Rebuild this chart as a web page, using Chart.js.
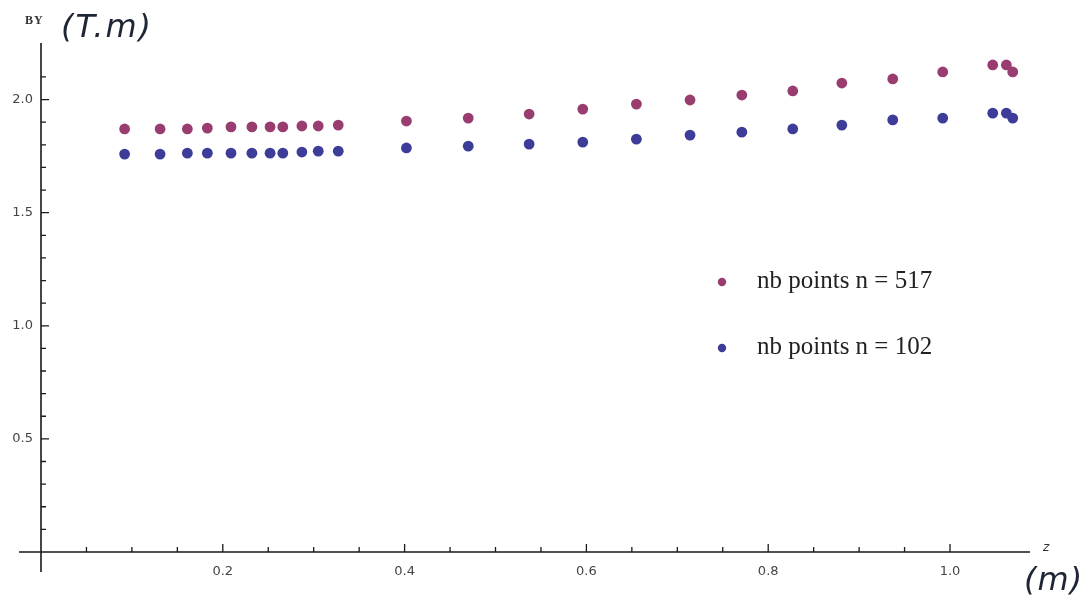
<!DOCTYPE html>
<html>
<head>
<meta charset="utf-8">
<script src="https://cdn.jsdelivr.net/npm/chart.js@4.4.1/dist/chart.umd.min.js"></script>
<style>
  html, body { margin: 0; padding: 0; background: #ffffff; }
  #wrap { width: 1090px; height: 602px; }
</style>
</head>
<body>
<div id="wrap"><canvas id="c" width="1090" height="602"></canvas></div>
<script>
// ---- data ----
const zPositions = [0.092, 0.131, 0.161, 0.183, 0.209, 0.232, 0.252, 0.266, 0.287, 0.305, 0.327,
                    0.402, 0.470, 0.537, 0.596, 0.655, 0.714, 0.771, 0.827, 0.881, 0.937, 0.992,
                    1.047, 1.062, 1.069];
const by517 = [1.870, 1.870, 1.870, 1.874, 1.879, 1.879, 1.879, 1.879, 1.883, 1.883, 1.887,
               1.905, 1.918, 1.936, 1.958, 1.980, 1.998, 2.020, 2.038, 2.073, 2.091, 2.122,
               2.153, 2.153, 2.122];
const by102 = [1.759, 1.759, 1.763, 1.763, 1.763, 1.763, 1.763, 1.763, 1.768, 1.772, 1.772,
               1.786, 1.794, 1.803, 1.812, 1.825, 1.843, 1.856, 1.870, 1.887, 1.910, 1.918,
               1.940, 1.940, 1.918];
const seriesLabels = ['nb points n = 517', 'nb points n = 102'];
const xMajorTicks = [0.2, 0.4, 0.6, 0.8, 1.0];
const yMajorTicks = [0.5, 1.0, 1.5, 2.0];
const yAxisLabelSmall = 'BY';
const yAxisUnit = '(T.m)';
const xAxisLabelSmall = 'z';
const xAxisUnit = '(m)';

const RED = '#993d71';
const BLUE = '#3d3d99';

function toPoints(xs, ys) { return xs.map((x, i) => ({ x: x, y: ys[i] })); }
function isMajor(v, list) { return list.some(m => Math.abs(m - v) < 1e-6); }

const axesPlugin = {
  id: 'mathAxes',
  beforeDatasetsDraw(chart) {
    const ctx = chart.ctx;
    const xs = chart.scales.x, ys = chart.scales.y;
    const x0 = xs.getPixelForValue(0), y0 = ys.getPixelForValue(0);
    const xEnd = xs.getPixelForValue(xs.max), yTop = ys.getPixelForValue(ys.max);
    ctx.save();
    ctx.strokeStyle = '#1a1a1a';
    ctx.lineWidth = 1.6;
    ctx.beginPath();
    ctx.moveTo(x0 - 22, y0); ctx.lineTo(xEnd, y0);
    ctx.moveTo(x0, yTop); ctx.lineTo(x0, y0 + 20);
    ctx.stroke();
    ctx.lineWidth = 1.3;
    ctx.beginPath();
    xs.ticks.forEach(t => {
      if (t.value <= 1e-6 || t.value > xs.max - 0.02) return;
      const px = xs.getPixelForValue(t.value);
      const len = isMajor(t.value, xMajorTicks) ? 8 : 5;
      ctx.moveTo(px, y0); ctx.lineTo(px, y0 - len);
    });
    ys.ticks.forEach(t => {
      if (t.value <= 1e-6 || t.value > ys.max - 0.02) return;
      const py = ys.getPixelForValue(t.value);
      const len = isMajor(t.value, yMajorTicks) ? 8 : 5;
      ctx.moveTo(x0, py); ctx.lineTo(x0 + len, py);
    });
    ctx.stroke();
    ctx.restore();
  },
  afterDraw(chart) {
    const ctx = chart.ctx;
    ctx.save();
    ctx.textBaseline = 'middle';
    ctx.textAlign = 'left';
    // axis labels
    ctx.fillStyle = '#333';
    ctx.font = 'bold 12px "Liberation Serif"';
    ctx.letterSpacing = '1px';
    ctx.fillText(yAxisLabelSmall, 25, 21);
    ctx.fillStyle = '#1e2636';
    ctx.font = 'italic 32px "DejaVu Sans"';
    ctx.letterSpacing = '2px';
    ctx.fillText(yAxisUnit, 61, 29);
    ctx.letterSpacing = '0px';
    ctx.fillStyle = '#333';
    ctx.font = 'italic 12px "DejaVu Sans"';
    ctx.fillText(xAxisLabelSmall, 1043, 548);
    ctx.fillStyle = '#1e2636';
    ctx.font = 'italic 32px "DejaVu Sans"';
    ctx.letterSpacing = '1px';
    ctx.fillText(xAxisUnit, 1024, 582);
    ctx.letterSpacing = '0px';
    // legend
    const items = chart.data.datasets;
    const lx = 722, ly = [282, 348];
    items.forEach((ds, i) => {
      ctx.fillStyle = ds.backgroundColor;
      ctx.beginPath();
      ctx.arc(lx, ly[i], 4.2, 0, Math.PI * 2);
      ctx.fill();
      ctx.fillStyle = '#222';
      ctx.font = '25px "Liberation Serif"';
      ctx.fillText(ds.label, 757, ly[i] - 1);
    });
    ctx.restore();
  }
};

new Chart(document.getElementById('c'), {
  type: 'scatter',
  data: {
    datasets: [
      { label: seriesLabels[0], data: toPoints(zPositions, by517), backgroundColor: RED,
        borderColor: RED, pointRadius: 5.4, pointBorderWidth: 0, pointHoverRadius: 5.4 },
      { label: seriesLabels[1], data: toPoints(zPositions, by102), backgroundColor: BLUE,
        borderColor: BLUE, pointRadius: 5.4, pointBorderWidth: 0, pointHoverRadius: 5.4 }
    ]
  },
  options: {
    responsive: false,
    animation: false,
    devicePixelRatio: 1,
    layout: { padding: { top: 43, right: 60, left: 0, bottom: 0 } },
    plugins: { legend: { display: false }, tooltip: { enabled: false }, title: { display: false } },
    scales: {
      x: {
        type: 'linear', min: 0, max: 1.088,
        grid: { display: false }, border: { display: false },
        ticks: {
          stepSize: 0.05, autoSkip: false, maxRotation: 0, padding: 4,
          color: '#444', font: { family: 'DejaVu Sans', size: 13 },
          callback: v => isMajor(v, xMajorTicks) ? v.toFixed(1) : ''
        },
        afterFit: s => { s.height = 50; }
      },
      y: {
        type: 'linear', min: 0, max: 2.25,
        grid: { display: false }, border: { display: false },
        ticks: {
          stepSize: 0.1, autoSkip: false, padding: 0,
          color: '#444', font: { family: 'DejaVu Sans', size: 13 },
          callback: v => isMajor(v, yMajorTicks) ? v.toFixed(1) : ''
        },
        afterFit: s => { s.width = 41; }
      }
    }
  },
  plugins: [axesPlugin]
});
</script>
</body>
</html>
